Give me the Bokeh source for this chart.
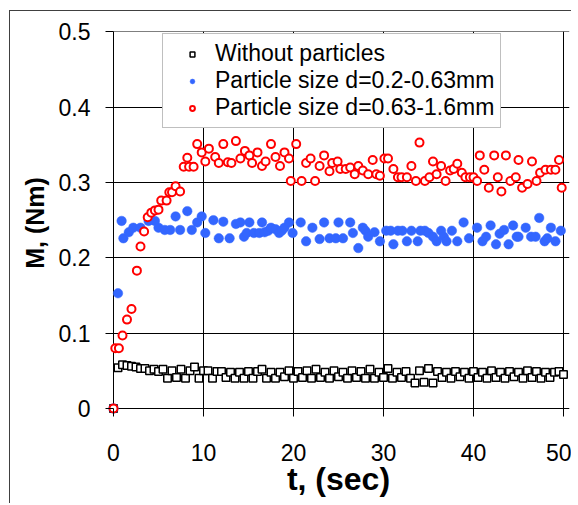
from bokeh.plotting import figure
from bokeh.models import Range1d, FixedTicker, NumeralTickFormatter
from bokeh.embed import file_html
from bokeh.resources import INLINE

# ---- data ----
t_none = [0, 0.5, 1.0, 1.5, 2.0, 2.5, 3.0, 3.5, 4.0, 4.5, 5.0, 5.5, 6.0, 6.5, 7.0, 7.5, 8.0, 8.5, 9.0, 9.5,
          10.0, 10.5, 11.0, 11.5, 12.0, 12.5, 13.0, 13.5, 14.0, 14.5, 15.0, 15.5, 16.0, 16.5, 17.0, 17.5, 18.0, 18.5, 19.0, 19.5,
          20.0, 20.5, 21.0, 21.5, 22.0, 22.5, 23.0, 23.5, 24.0, 24.5, 25.0, 25.5, 26.0, 26.5, 27.0, 27.5, 28.0, 28.5, 29.0, 29.5,
          30.0, 30.5, 31.0, 31.5, 32.0, 32.5, 33.0, 33.5, 34.0, 34.5, 35.0, 35.5, 36.0, 36.5, 37.0, 37.5, 38.0, 38.5, 39.0, 39.5,
          40.0, 40.5, 41.0, 41.5, 42.0, 42.5, 43.0, 43.5, 44.0, 44.5, 45.0, 45.5, 46.0, 46.5, 47.0, 47.5, 48.0, 48.5, 49.0, 49.5,
          50.0]
m_none = [0, 0.054, 0.058, 0.057, 0.056, 0.055, 0.053, 0.053, 0.050, 0.052, 0.049, 0.052, 0.040, 0.050, 0.041, 0.052, 0.040, 0.050, 0.055, 0.040,
          0.050, 0.050, 0.040, 0.049, 0.049, 0.041, 0.048, 0.040, 0.048, 0.040, 0.049, 0.040, 0.049, 0.052, 0.040, 0.048, 0.040, 0.048, 0.042, 0.050,
          0.040, 0.049, 0.041, 0.050, 0.040, 0.052, 0.041, 0.048, 0.040, 0.050, 0.042, 0.048, 0.040, 0.050, 0.041, 0.049, 0.040, 0.052, 0.040, 0.048,
          0.041, 0.053, 0.040, 0.048, 0.041, 0.049, 0.040, 0.034, 0.050, 0.035, 0.053, 0.034, 0.049, 0.041, 0.048, 0.040, 0.049, 0.042, 0.048, 0.040,
          0.049, 0.041, 0.048, 0.040, 0.050, 0.041, 0.048, 0.040, 0.049, 0.042, 0.048, 0.040, 0.050, 0.041, 0.049, 0.040, 0.048, 0.041, 0.048, 0.049,
          0.045]

t_small = [0, 0.5, 0.9, 1.1, 1.7, 2.2, 3.0, 3.9, 4.6, 5.0, 5.7, 6.3, 6.9, 7.4, 8.2, 8.7, 9.3, 9.8, 10.2, 11.1,
           11.7, 12.2, 12.9, 13.6, 14.1, 14.5, 14.8, 15.1, 15.6, 16.2, 16.5, 16.8, 17.2, 17.5, 18.0, 18.4, 18.7, 19.0, 19.5, 19.9,
           20.8, 21.4, 22.1, 22.9, 23.4, 24.0, 24.7, 25.0, 25.5, 26.3, 26.6, 27.2, 27.7, 28.0, 28.3, 29.0, 29.6, 30.3, 30.8, 31.1,
           31.6, 32.1, 32.6, 33.1, 33.8, 34.1, 34.6, 35.0, 35.5, 35.9, 36.4, 36.7, 37.0, 37.6, 38.2, 38.9, 39.5, 40.4, 41.0, 41.4,
           41.9, 42.5, 42.9, 43.4, 43.9, 44.4, 44.8, 45.0, 45.8, 46.4, 46.9, 47.3, 47.9, 48.2, 48.6, 49.1, 49.7]
m_small = [0, 0.153, 0.249, 0.226, 0.234, 0.240, 0.240, 0.249, 0.249, 0.240, 0.237, 0.237, 0.255, 0.237, 0.262, 0.237, 0.247, 0.255, 0.233, 0.250,
           0.226, 0.248, 0.226, 0.245, 0.247, 0.228, 0.233, 0.247, 0.233, 0.233, 0.247, 0.234, 0.236, 0.240, 0.238, 0.233, 0.236, 0.240, 0.247, 0.233,
           0.247, 0.222, 0.240, 0.225, 0.247, 0.226, 0.226, 0.247, 0.226, 0.247, 0.233, 0.213, 0.240, 0.236, 0.228, 0.234, 0.222, 0.236, 0.236, 0.218,
           0.236, 0.236, 0.222, 0.236, 0.222, 0.236, 0.236, 0.233, 0.228, 0.222, 0.236, 0.228, 0.222, 0.236, 0.222, 0.247, 0.226, 0.240, 0.222, 0.228,
           0.243, 0.218, 0.232, 0.237, 0.218, 0.243, 0.228, 0.228, 0.240, 0.228, 0.228, 0.253, 0.222, 0.226, 0.240, 0.222, 0.236]

t_large = [0, 0.2, 0.6, 1.0, 1.5, 2.0, 2.6, 3.0, 3.4, 3.8, 4.2, 4.6, 5.0, 5.3, 5.9, 6.2, 6.5, 6.9, 7.4, 7.8,
           8.2, 8.4, 8.9, 9.3, 9.8, 10.2, 10.6, 11.3, 11.7, 12.2, 12.7, 13.1, 13.6, 14.1, 14.6, 15.1, 15.4, 16.0, 16.5, 16.9,
           17.5, 18.0, 18.5, 19.0, 19.5, 19.7, 20.3, 20.9, 21.4, 21.9, 22.4, 22.9, 23.4, 24.0, 24.3, 24.9, 25.2, 25.8, 26.3, 26.8,
           27.2, 27.7, 28.3, 28.8, 29.2, 29.6, 30.1, 30.5, 31.1, 31.6, 32.0, 32.6, 33.1, 33.6, 34.0, 34.6, 35.1, 35.5, 35.9, 36.4,
           36.9, 37.4, 37.8, 38.2, 38.7, 39.1, 39.6, 40.0, 40.4, 40.7, 41.2, 41.7, 42.3, 42.7, 43.1, 43.6, 44.1, 44.7, 45.0, 45.4,
           46.0, 46.5, 47.0, 47.4, 48.0, 48.6, 49.1, 49.5, 49.8]
m_large = [0, 0.080, 0.080, 0.097, 0.118, 0.132, 0.183, 0.215, 0.235, 0.254, 0.260, 0.263, 0.264, 0.276, 0.276, 0.287, 0.287, 0.295, 0.288, 0.321,
           0.333, 0.321, 0.321, 0.351, 0.340, 0.328, 0.345, 0.334, 0.326, 0.351, 0.327, 0.326, 0.355, 0.332, 0.342, 0.336, 0.326, 0.340, 0.322, 0.328,
           0.351, 0.334, 0.322, 0.340, 0.332, 0.302, 0.351, 0.302, 0.326, 0.332, 0.302, 0.322, 0.336, 0.315, 0.326, 0.328, 0.318, 0.318, 0.320, 0.311,
           0.322, 0.316, 0.311, 0.330, 0.311, 0.309, 0.332, 0.332, 0.318, 0.307, 0.307, 0.307, 0.322, 0.302, 0.353, 0.302, 0.307, 0.328, 0.311, 0.322,
           0.302, 0.316, 0.318, 0.325, 0.313, 0.307, 0.307, 0.307, 0.302, 0.336, 0.317, 0.293, 0.336, 0.307, 0.288, 0.336, 0.302, 0.307, 0.330, 0.293,
           0.298, 0.328, 0.302, 0.313, 0.317, 0.317, 0.317, 0.330, 0.293]

x_ticks = [0, 10, 20, 30, 40, 50]
y_ticks = [0, 0.1, 0.2, 0.3, 0.4, 0.5]
labels = ["Without particles", "Particle size d=0.2-0.63mm", "Particle size d=0.63-1.6mm"]

FONT = "Liberation Sans"

p = figure(width=562, height=493, output_backend="svg", toolbar_location=None,
           x_range=Range1d(-0.6667, 50.6667), y_range=Range1d(-0.00796, 0.5005),
           min_border_left=97, min_border_right=3, min_border_top=20, min_border_bottom=90)
p.styles = {"margin-left": "9px", "margin-top": "10px",
            "border-top": "1px solid #404040", "border-left": "1px solid #404040"}
p.outline_line_color = None
p.background_fill_color = "white"
p.border_fill_color = "white"

for ax in (p.xaxis[0], p.yaxis[0]):
    ax.axis_line_color = None
    ax.major_tick_line_color = "black"
    ax.major_tick_in = 6
    ax.major_tick_out = 2
    ax.minor_tick_line_color = None
    ax.major_label_text_font = FONT
    ax.major_label_text_font_size = "23px"
    ax.major_label_text_color = "black"
    ax.axis_label_text_font = FONT
    ax.axis_label_text_font_style = "bold"
    ax.axis_label_text_color = "black"

p.xaxis.ticker = FixedTicker(ticks=x_ticks)
p.yaxis.ticker = FixedTicker(ticks=y_ticks)
p.yaxis.formatter = NumeralTickFormatter(format="0.[0]")
p.xaxis.major_label_standoff = 27
p.yaxis.major_label_standoff = 15
p.xaxis.axis_label = "t, (sec)"
p.yaxis.axis_label = "M, (Nm)"
p.xaxis.axis_label_text_font_size = "32px"
p.yaxis.axis_label_text_font_size = "25px"
p.xaxis.axis_label_standoff = -3
p.yaxis.axis_label_standoff = 7

p.xgrid.grid_line_color = "black"
p.ygrid.grid_line_color = "black"
p.xgrid.grid_line_width = 1
p.ygrid.grid_line_width = 1

p.scatter(t_none, m_none, marker="square", size=7.5, fill_color="white",
          line_color="black", line_width=1.5, legend_label=labels[0])
p.scatter(t_small, m_small, marker="circle", size=9.5, fill_color="#3366FF",
          line_color="#3366FF", line_width=0.5, legend_label=labels[1])
p.scatter(t_large, m_large, marker="circle", size=8, fill_color="white",
          line_color="red", line_width=2, legend_label=labels[2])

lg = p.legend[0]
lg.location = (55, 286)
lg.label_text_font = FONT
lg.label_text_font_size = "23px"
lg.label_text_color = "black"
lg.label_height = 21
lg.glyph_height = 12
lg.glyph_width = 46
lg.label_standoff = -5
lg.padding = 6
lg.spacing = 0
lg.margin = 0
lg.border_line_color = "#808080"
lg.border_line_width = 1
lg.background_fill_color = "white"
lg.background_fill_alpha = 1

open("out.html", "w").write(file_html(p, INLINE))
